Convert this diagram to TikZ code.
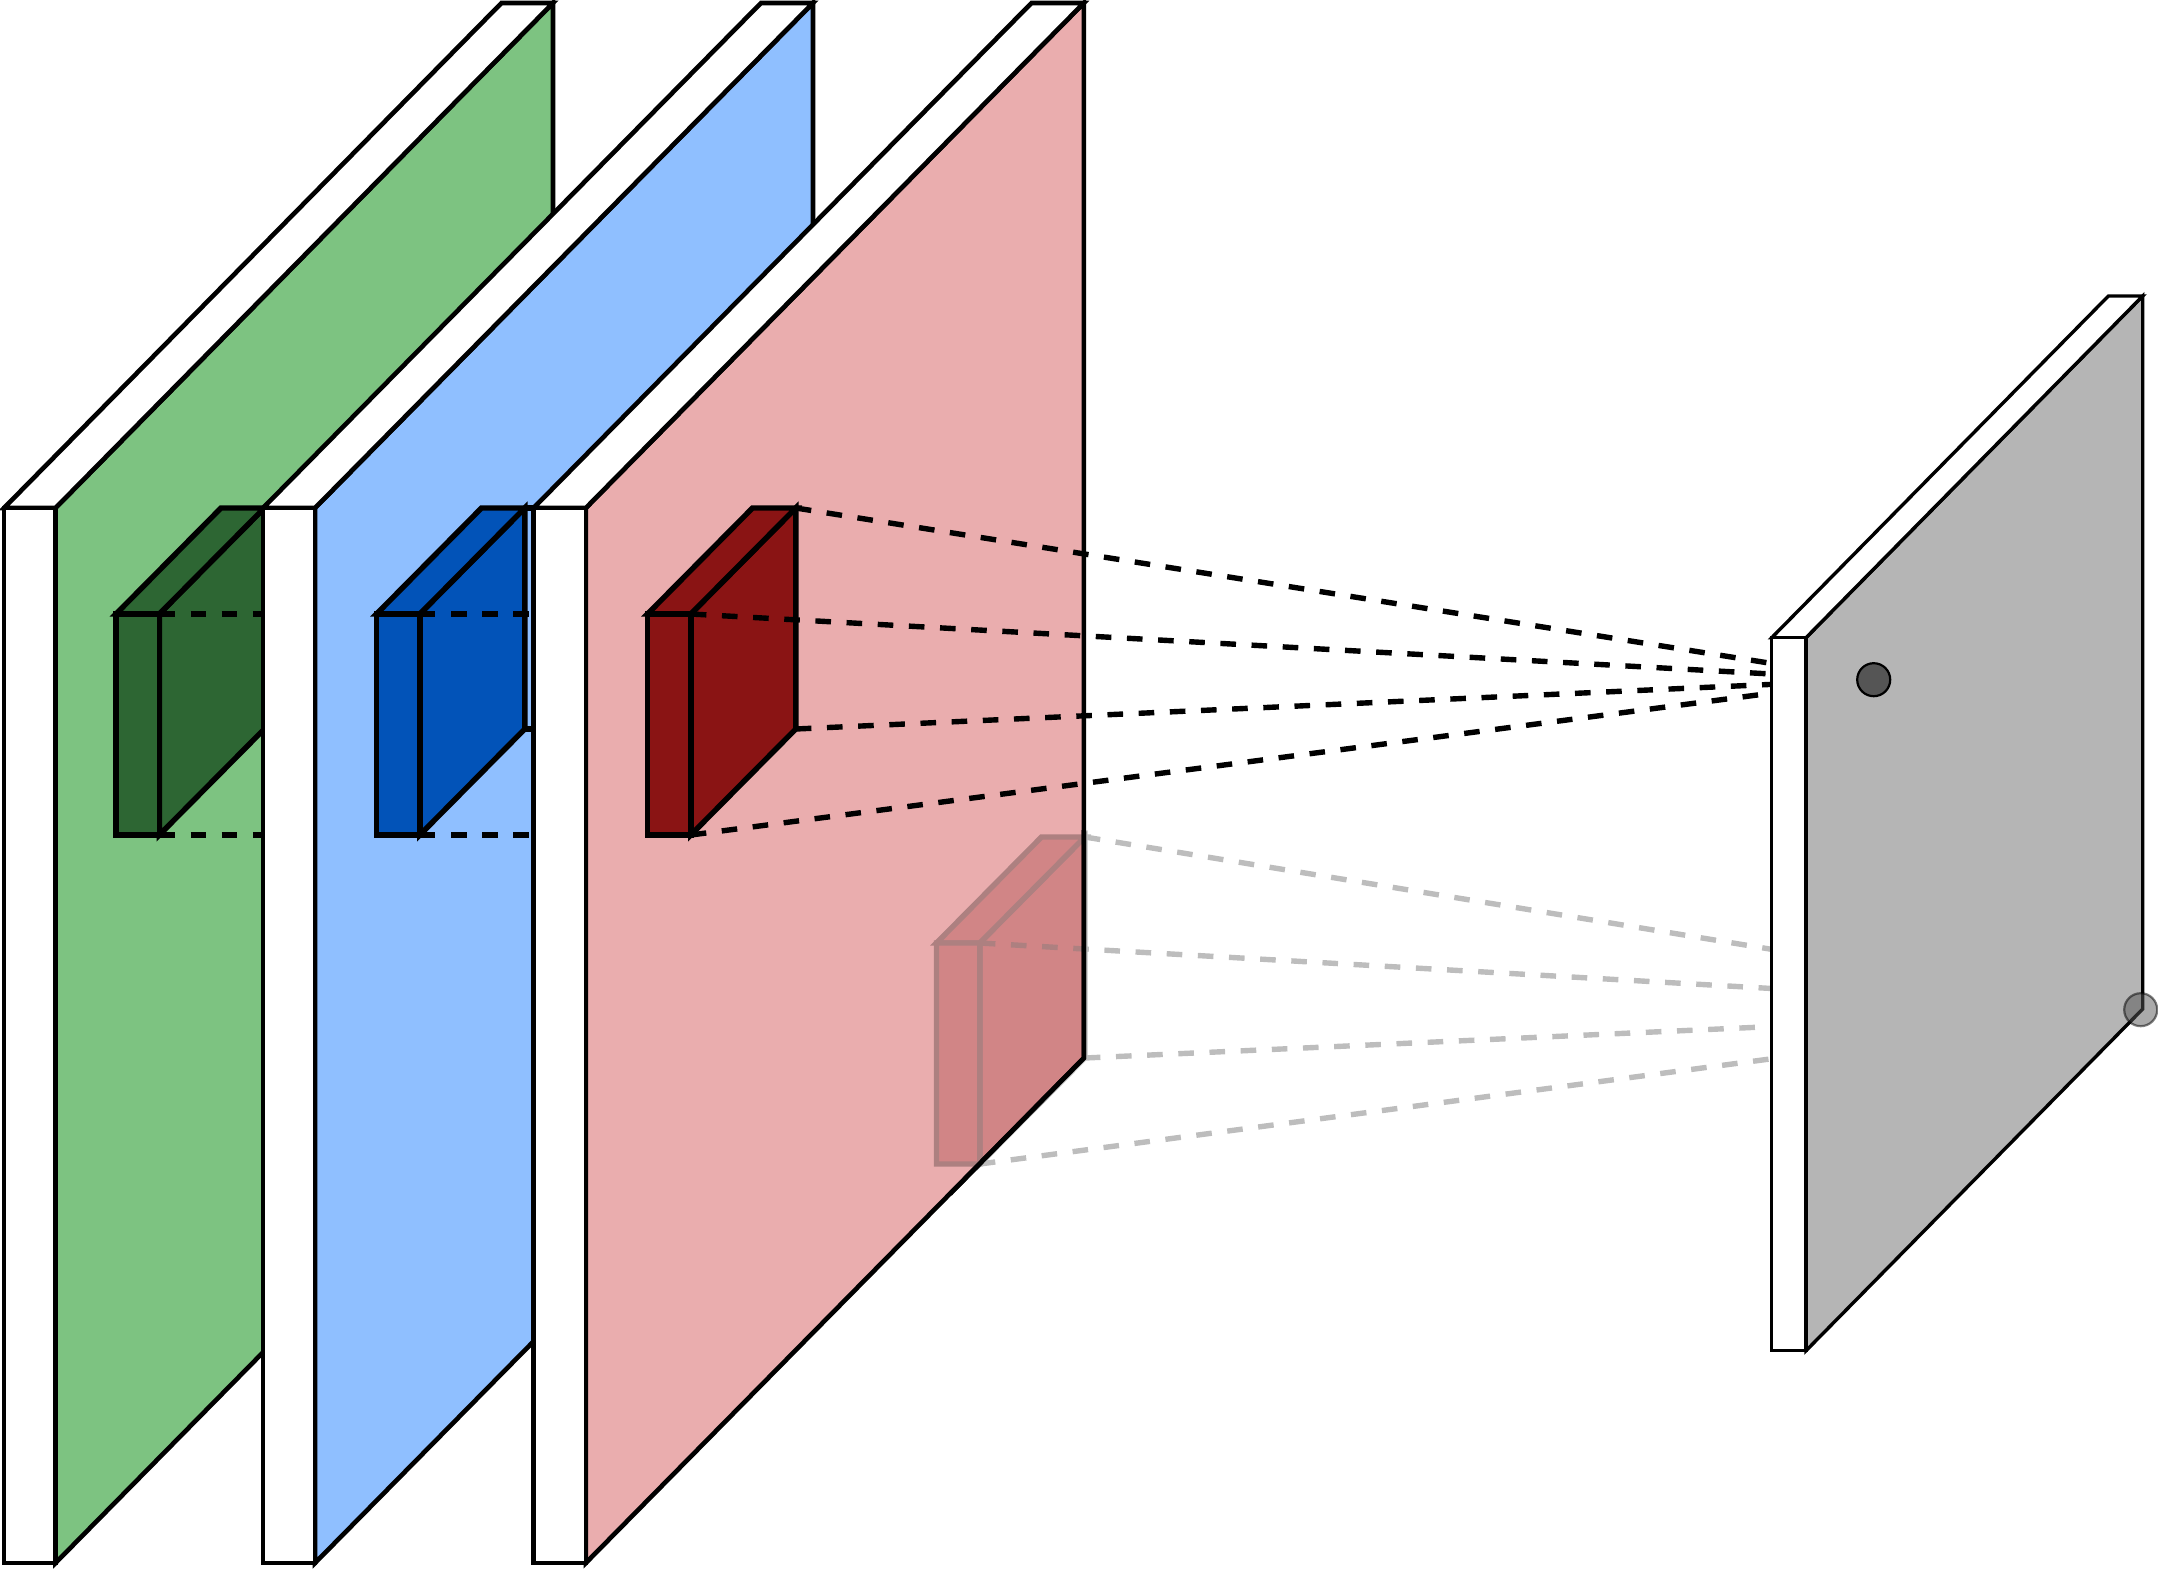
\documentclass[tikz,border=0pt]{standalone}
\usetikzlibrary{calc}
\definecolor{slabgreen}{HTML}{7DC381}
\definecolor{slabblue}{HTML}{8FBFFF}
\definecolor{slabpink}{HTML}{EAADAE}
\definecolor{slabgray}{HTML}{B5B5B5}
\definecolor{boxgreen}{HTML}{2D6633}
\definecolor{boxblue}{HTML}{0253B8}
\definecolor{boxred}{HTML}{8A1414}
\definecolor{dotgray}{HTML}{555555}
\tikzset{
  slabline/.style={draw=black,line width=4.6pt,miter limit=10},
  thinslabline/.style={draw=black,line width=3.4pt,miter limit=10},
  boxline/.style={draw=black,line width=5.4pt,miter limit=10},
  rayline/.style={draw=black,line width=5.4pt,dash pattern=on 15.6pt off 15.6pt},
  dotnode/.style={circle,draw=black,line width=2.2pt,fill=dotgray,minimum size=33pt,inner sep=0pt},
}
% slab: style, x, ytop-front, width, height, dx, dy, fill
\newcommand{\drawslab}[8]{%
  \path[#1,fill=#8] ({#2+#4},#3) -- ++(#6,-#7) -- ++(0,#5) -- ({#2+#4},{#3+#5}) -- cycle;
  \path[#1,fill=white] (#2,#3) -- ++(#6,-#7) -- ++(#4,0) -- ({#2+#4},#3) -- cycle;
  \path[#1,fill=white] (#2,#3) rectangle ({#2+#4},{#3+#5});
}
% box: name, x, ytop-front, fill
\newcommand{\drawbox}[4]{%
  \coordinate (#1ft) at ({#2+43.3},#3);
  \coordinate (#1fb) at ({#2+43.3},{#3+221});
  \coordinate (#1bt) at ({#2+43.3+105},{#3-106});
  \coordinate (#1bb) at ({#2+43.3+105},{#3+115});
  \path[boxline,fill=#4] (#1ft) -- (#1bt) -- (#1bb) -- (#1fb) -- cycle;
  \path[boxline,fill=#4] (#2,#3) -- ++(105,-106) -- (#1bt) -- (#1ft) -- cycle;
  \path[boxline,fill=#4] (#2,#3) rectangle (#1fb);
}
\begin{document}
\begin{tikzpicture}[x=1pt,y=-1pt]
\useasboundingbox (0,0) rectangle (2158,1570);
\coordinate (dotA) at (1873.7,679.7);
\coordinate (dotB) at (2140.7,1009.7);
\coordinate (farA) at (1000,0);
% slab 1
\drawslab{slabline}{4}{508}{51.5}{1055}{497.5}{505}{slabgreen}
\drawbox{g}{116}{614}{boxgreen}
\foreach \c in {gft,gfb,gbt,gbb} \draw[rayline] (\c) -- (\c -| farA);
% slab 2
\drawslab{slabline}{263}{508}{52}{1055}{498}{505}{slabblue}
\drawbox{b}{376.5}{614}{boxblue}
\foreach \c in {bft,bfb,bbt,bbb} \draw[rayline] (\c) -- (\c -| farA);
% slab 3
\drawslab{slabline}{533.5}{508}{52.3}{1055}{498}{505}{slabpink}
\drawbox{r}{647.5}{614}{boxred}
\draw[rayline] (rbt) -- (dotA);
\draw[rayline] (rft) -- (dotA);
\draw[rayline] (rbb) -- (dotA);
\draw[rayline] (rfb) -- (dotA);
% ghost box and rays
\begin{scope}[transparency group,opacity=.26]
  \drawbox{h}{936.5}{943}{boxred}
  \draw[rayline] (hbt) -- (dotB);
  \draw[rayline] (hft) -- (dotB);
  \draw[rayline] (hbb) -- (dotB);
  \draw[rayline] (hfb) -- (dotB);
\end{scope}
% slab 3 edge on top of the ghost
\draw[slabline] (1083.8,830) -- (1083.8,1058) -- (950,1194);
% slab 4
\drawslab{thinslabline}{1771.7}{637.7}{34.3}{713}{336.7}{341.7}{slabgray}
% dots
\node[dotnode] (activeDot) at (dotA) {};
\node[dotnode,opacity=.5] (ghostDot) at (dotB) {};
\end{tikzpicture}
\end{document}
